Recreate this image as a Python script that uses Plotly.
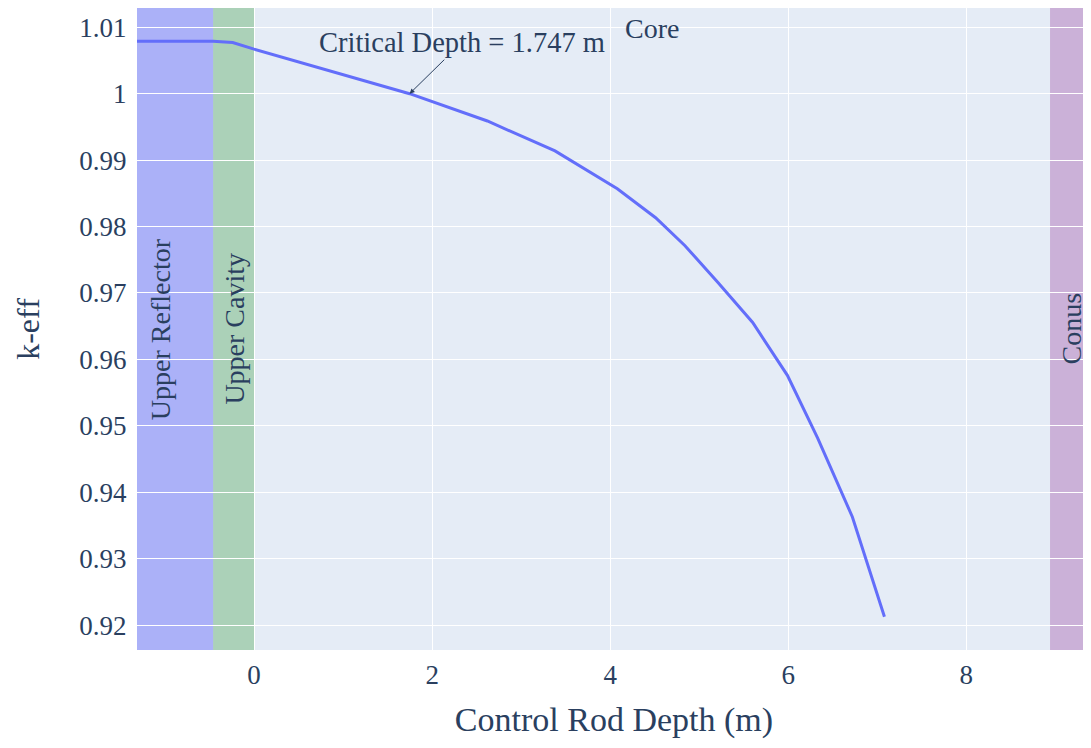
import plotly.graph_objects as go

depth_m = [-1.40, -0.46, -0.24, 0.00, 1.747, 2.62, 3.38, 4.08, 4.51, 4.84,
           5.21, 5.60, 5.99, 6.33, 6.72, 7.08]
k_eff = [1.0079, 1.0079, 1.0077, 1.0067, 1.0000, 0.99589, 0.99138, 0.98568,
         0.98132, 0.97712, 0.97156, 0.96556, 0.95760, 0.94814, 0.93628, 0.92126]

regions = ["Upper Reflector", "Upper Cavity", "Core", "Conus"]
region_start = [-1.65, -0.46, 0.0, 8.94]
region_end = [-0.46, 0.0, 8.94, 9.40]
region_color = ["blue", "green", "rgba(0,0,0,0)", "purple"]

critical_depth = 1.747
critical_k = 1.0

FONT = "Liberation Serif, Times New Roman, serif"
TXT = "#2a3f5f"

fig = go.Figure()
fig.add_trace(go.Scatter(x=depth_m, y=k_eff, mode="lines",
                         line=dict(color="#636efa", width=3), showlegend=False))

for name, x0, x1, col in zip(regions, region_start, region_end, region_color):
    fig.add_vrect(x0=x0, x1=x1, fillcolor=col, opacity=0.25, line_width=0,
                  layer="below")
    if name == "Core":
        fig.add_annotation(x=(x0 + x1) / 2, y=1.0, xref="x", yref="paper",
                           text=name, showarrow=False, yanchor="top", yshift=-3,
                           font=dict(size=28, family=FONT, color=TXT))
    else:
        fig.add_annotation(x=(x0 + x1) / 2, y=0.5, xref="x", yref="paper",
                           text=name, showarrow=False, textangle=-90,
                           font=dict(size=28, family=FONT, color=TXT))

fig.add_annotation(x=critical_depth, y=critical_k, xref="x", yref="y",
                   text=f"Critical Depth = {critical_depth} m",
                   showarrow=True, arrowhead=2, arrowsize=1, arrowwidth=1,
                   arrowcolor=TXT, ax=52, ay=-51,
                   font=dict(size=28.5, family=FONT, color=TXT))

fig.update_layout(
    width=1083, height=740,
    margin=dict(l=129, r=0, t=0, b=98),
    template="plotly",
    font=dict(family=FONT, size=27, color=TXT),
    xaxis=dict(range=[-1.315, 9.40], dtick=2, zeroline=False,
               ticks="outside", ticklen=1, tickcolor="rgba(0,0,0,0)",
               title=dict(text="Control Rod Depth (m)", font=dict(size=34),
                          standoff=17),
               tickfont=dict(size=27)),
    yaxis=dict(range=[0.91625, 1.0129], dtick=0.01, zeroline=False,
               ticks="outside", ticklen=4, tickcolor="rgba(0,0,0,0)",
               title=dict(text="k-eff", font=dict(size=32), standoff=30),
               tickfont=dict(size=27)),
)

fig.write_html("out.html")
